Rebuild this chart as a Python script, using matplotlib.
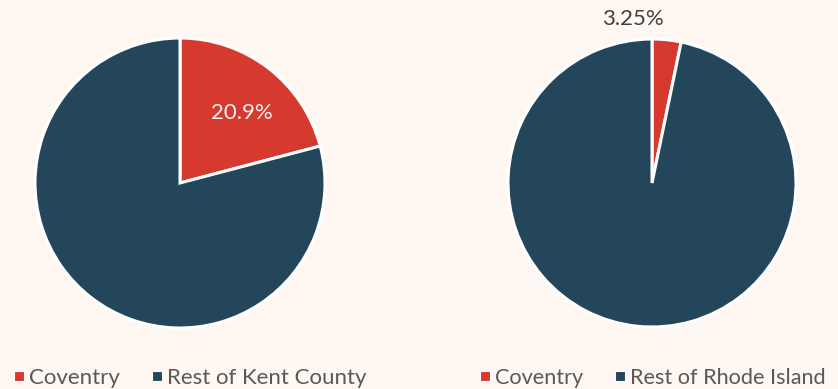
import matplotlib.pyplot as plt
from matplotlib.lines import Line2D

plt.rcParams['font.family'] = ['Lato', 'DejaVu Sans']

# ---- data ----
left_labels = ['Coventry', 'Rest of Kent County']
left_values = [20.9, 79.1]
right_labels = ['Coventry', 'Rest of Rhode Island']
right_values = [3.25, 96.75]

colors = ['#D63A2F', '#23465A']
bg = '#FFF8F2'

W, H = 838, 389
fig = plt.figure(figsize=(W / 100, H / 100), dpi=100)
fig.patch.set_facecolor(bg)


def pie_axes(cx, cy, r):
    return fig.add_axes([(cx - r) / W, (H - cy - r) / H, 2 * r / W, 2 * r / H])


# ---- left pie ----
ax1 = pie_axes(180, 183, 145)
ax1.pie(left_values, colors=colors, startangle=90, counterclock=False,
        radius=1.0, wedgeprops=dict(edgecolor='white', linewidth=2.2))
ax1.text(0.43, 0.48, '20.9%', ha='center', va='center', fontsize=16,
         color='#F2F2F2')
ax1.set_xlim(-1, 1)
ax1.set_ylim(-1, 1)
ax1.set_aspect('equal')

# ---- right pie ----
ax2 = pie_axes(652, 183, 144)
ax2.pie(right_values, colors=colors, startangle=90, counterclock=False,
        radius=1.0, wedgeprops=dict(edgecolor='white', linewidth=2.2))
ax2.text(-0.13, 1.14, '3.25%', ha='center', va='center', fontsize=16,
         color='#404040', clip_on=False)
ax2.set_xlim(-1, 1)
ax2.set_ylim(-1, 1)
ax2.set_aspect('equal')


# ---- legends ----
def add_legend(labels, x, fs):
    handles = [Line2D([], [], marker='s', linestyle='none', markersize=7,
                      markerfacecolor=c, markeredgecolor='white',
                      markeredgewidth=0.8) for c in colors]
    fig.legend(handles, labels, loc='center left',
               bbox_to_anchor=(x / W, (H - 378) / H), ncol=2, frameon=False,
               fontsize=fs, labelcolor='#595959', handletextpad=0.2,
               columnspacing=1.45, handlelength=0.5, borderpad=0,
               borderaxespad=0)


add_legend(left_labels, 13, 16)
add_legend(right_labels, 480, 15.6)

fig.savefig('out.png', dpi=100, facecolor=bg)
